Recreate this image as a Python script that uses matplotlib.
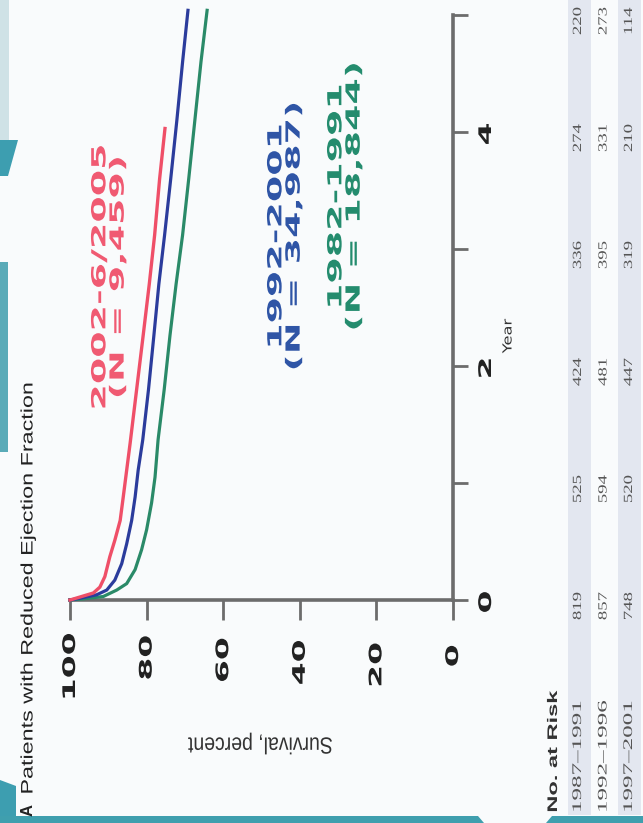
import matplotlib
matplotlib.use('Agg')
import matplotlib.pyplot as plt
import matplotlib.patheffects as pe
from matplotlib.transforms import Affine2D, offset_copy
from matplotlib.patches import Polygon, Rectangle

W, H = 643, 823

# survival curves (year, percent)
years_0205 = [0, 0.06, 0.11, 0.2, 0.37, 0.51, 0.68, 0.88, 1.11, 1.34, 1.8, 2.26, 2.7, 3.12, 3.6, 4.03]
surv_0205 = [100, 93.9, 92.2, 90.9, 89.6, 88.3, 86.9, 86.1, 85.2, 84.3, 82.6, 80.9, 79.3, 77.9, 76.6, 75.2]

years_9201 = [0, 0.015, 0.045, 0.085, 0.17, 0.31, 0.48, 0.68, 0.88, 1.11, 1.37, 1.8, 2.26, 2.7, 3.12, 3.6, 4.1, 4.6, 5.04]
surv_9201 = [100, 97.4, 93.0, 90.4, 88.3, 86.5, 85.2, 83.9, 83.0, 82.2, 81.0, 79.5, 78.1, 76.8, 75.3, 73.7, 72.1, 70.6, 69.2]

years_8291 = [0, 0.01, 0.03, 0.085, 0.14, 0.26, 0.43, 0.6, 0.83, 1.05, 1.37, 1.8, 2.26, 2.7, 3.12, 3.6, 4.1, 4.6, 5.04]
surv_8291 = [100, 96.5, 91.3, 87.8, 85.2, 83.0, 81.3, 80.0, 78.7, 77.8, 77.0, 75.4, 73.9, 72.3, 70.6, 69.0, 67.4, 65.8, 64.2]

curve_labels = ['2002-6/2005\n(N = 9,459)', '1992-2001\n(N = 34,987)', '1982-1991\n(N = 18,844)']

survival_ticks = [100, 80, 60, 40, 20, 0]
year_ticks = [0, 1, 2, 3, 4, 5]
year_labels = {0: '0', 2: '2', 4: '4'}

risk_periods = ['1987\u20131991', '1992\u20131996', '1997\u20132001']
risk_1987 = [819, 525, 424, 336, 274, 220]
risk_1992 = [857, 594, 481, 395, 331, 273]
risk_1997 = [748, 520, 447, 319, 210, 114]

RED, BLUE, GREEN = '#ef4f68', '#2b3c9c', '#2a8a68'
AXIS = '#6c6c6c'


class Stretch(pe.AbstractPathEffect):
    """scale glyphs along baseline (sx) / height (sy), the scan is stretched"""
    def __init__(self, sx=1.0, sy=1.0, anchor=0.5):
        super().__init__()
        self.sx, self.sy, self.anchor = sx, sy, anchor

    def draw_path(self, renderer, gc, tpath, affine, rgbFace=None):
        ext = tpath.get_extents()
        cx = ext.x0 + self.anchor * ext.width
        cy = ext.y0 + 0.5 * ext.height
        t = Affine2D().translate(-cx, -cy).scale(self.sx, self.sy).translate(cx, cy)
        renderer.draw_path(gc, tpath, t + affine, rgbFace)


def fx(x):
    return x / W


def fy(y):
    return 1 - y / H


fig = plt.figure(figsize=(W / 100, H / 100), dpi=100, facecolor='#f9fbfc')

# page decorations (teal strips of the scanned page)
deco = [
    [(0, 0), (9, 0), (9, 140), (0, 140)],
    [(0, 140), (18, 140), (8, 176), (0, 176)],
    [(0, 262), (8, 262), (8, 452), (0, 452)],
    [(0, 780), (16, 786), (16, 823), (0, 823)],
    [(0, 816), (478, 816), (484, 823), (0, 823)],
    [(552, 816), (643, 816), (643, 823), (546, 823)],
]
deco_cols = ['#cfe2e6', '#3d9eb0', '#5aabb8', '#3d9eb0', '#3f9fae', '#3f9fae']
for pts, c in zip(deco, deco_cols):
    fig.patches.append(Polygon([(fx(a), fy(b)) for a, b in pts], closed=True,
                               transform=fig.transFigure, facecolor=c, edgecolor='none', zorder=-1))

# shaded rows of the risk table
for x0 in [568, 618]:
    fig.patches.append(Rectangle((fx(x0), fy(815)), 23 / W, 815 / H, transform=fig.transFigure,
                                 facecolor='#e3e7f0', edgecolor='none', zorder=-1))

# axes: survival 100..0 runs left->right, years 0..5 run bottom->top
ax = fig.add_axes([fx(70), fy(600), (453 - 70) / W, (600 - 15) / H])
ax.set_xlim(100, 0)
ax.set_ylim(0, 5)
ax.patch.set_alpha(0)
for s in ['top', 'left']:
    ax.spines[s].set_visible(False)
for s in ['bottom', 'right']:
    ax.spines[s].set_color(AXIS)
    ax.spines[s].set_linewidth(2.6)
ax.set_xticks(survival_ticks)
ax.set_yticks(year_ticks)
ax.yaxis.tick_right()
ax.tick_params(axis='x', direction='out', length=14.5, width=2.0, color=AXIS, labelbottom=False)
ax.tick_params(axis='y', direction='out', length=10.5, width=2.0, color=AXIS,
               labelright=False, labelleft=False)

ax.plot(surv_8291, years_8291, color=GREEN, lw=2.3, clip_on=False, zorder=3)
ax.plot(surv_9201, years_9201, color=BLUE, lw=2.3, clip_on=False, zorder=3)
ax.plot(surv_0205, years_0205, color=RED, lw=2.4, clip_on=False, zorder=3)

# survival tick labels (scan is slightly tilted, right side sits lower)
for v in survival_ticks:
    tr = offset_copy(ax.get_xaxis_transform(), fig=fig, y=-(33 + 12 * (100 - v) / 100), units='dots')
    ax.text(v, 0, str(v), transform=tr, rotation=90, ha='center', va='top', fontsize=12.5,
            fontweight='bold', color='#222222', path_effects=[Stretch(1.9, anchor=1.0)])

# year tick labels
ytr = offset_copy(ax.get_yaxis_transform(), fig=fig, x=33, y=-2, units='dots')
for yv, lab in year_labels.items():
    ax.text(1, yv, lab, transform=ytr, rotation=90, ha='center', va='center', fontsize=12.5,
            fontweight='bold', color='#222222', path_effects=[Stretch(1.9)])

fig.text(fx(508), fy(336), 'Year', rotation=90, ha='center', va='center', fontsize=9,
         color='#333333', path_effects=[Stretch(1.3)])
fig.text(fx(260), fy(743), 'Survival, percent', rotation=180, ha='center', va='center',
         fontsize=14, family='Liberation Sans', color='#333333', path_effects=[Stretch(1, 1.2)])

# curve labels
label_pos = [(109, 277), (285, 236), (345, 196)]
label_cols = ['#f05a72', '#2f55a6', '#248c6e']
for txt, (x, y), c in zip(curve_labels, label_pos, label_cols):
    fig.text(fx(x), fy(y), txt, rotation=90, ha='center', va='center', multialignment='center',
             fontsize=14, fontweight='bold', color=c, linespacing=0.95,
             path_effects=[Stretch(1.95)])

# title
fig.text(fx(28), fy(816), 'A', rotation=90, ha='center', va='bottom', fontsize=12,
         fontweight='bold', family='Liberation Sans', color='#222222')
fig.text(fx(28), fy(794), 'Patients with Reduced Ejection Fraction', rotation=90, ha='center',
         va='bottom', fontsize=12, family='Liberation Sans', color='#222222',
         path_effects=[Stretch(1.4, anchor=0.0)])

# number at risk table
fig.text(fx(553), fy(812), 'No. at Risk', rotation=90, ha='center', va='bottom', fontsize=10,
         fontweight='bold', family='Liberation Sans', color='#333333',
         path_effects=[Stretch(1.7, anchor=0.0)])
row_x = [578, 603.5, 629]
for i, (period, counts) in enumerate(zip(risk_periods, [risk_1987, risk_1992, risk_1997])):
    fig.text(fx(row_x[i]), fy(812), period, rotation=90, ha='center', va='bottom', fontsize=9.5,
             family='Liberation Serif', color='#555555', path_effects=[Stretch(1.9, anchor=0.0)])
    rtr = offset_copy(ax.get_yaxis_transform(), fig=fig, x=row_x[i] - 453, y=-6, units='dots')
    for yr, n in zip(year_ticks, counts):
        ax.text(1, yr, str(n), transform=rtr, rotation=90, ha='center', va='center', fontsize=9,
                family='Liberation Serif', color='#555555', path_effects=[Stretch(1.5)])

fig.savefig('out.png', dpi=100, facecolor=fig.get_facecolor())
